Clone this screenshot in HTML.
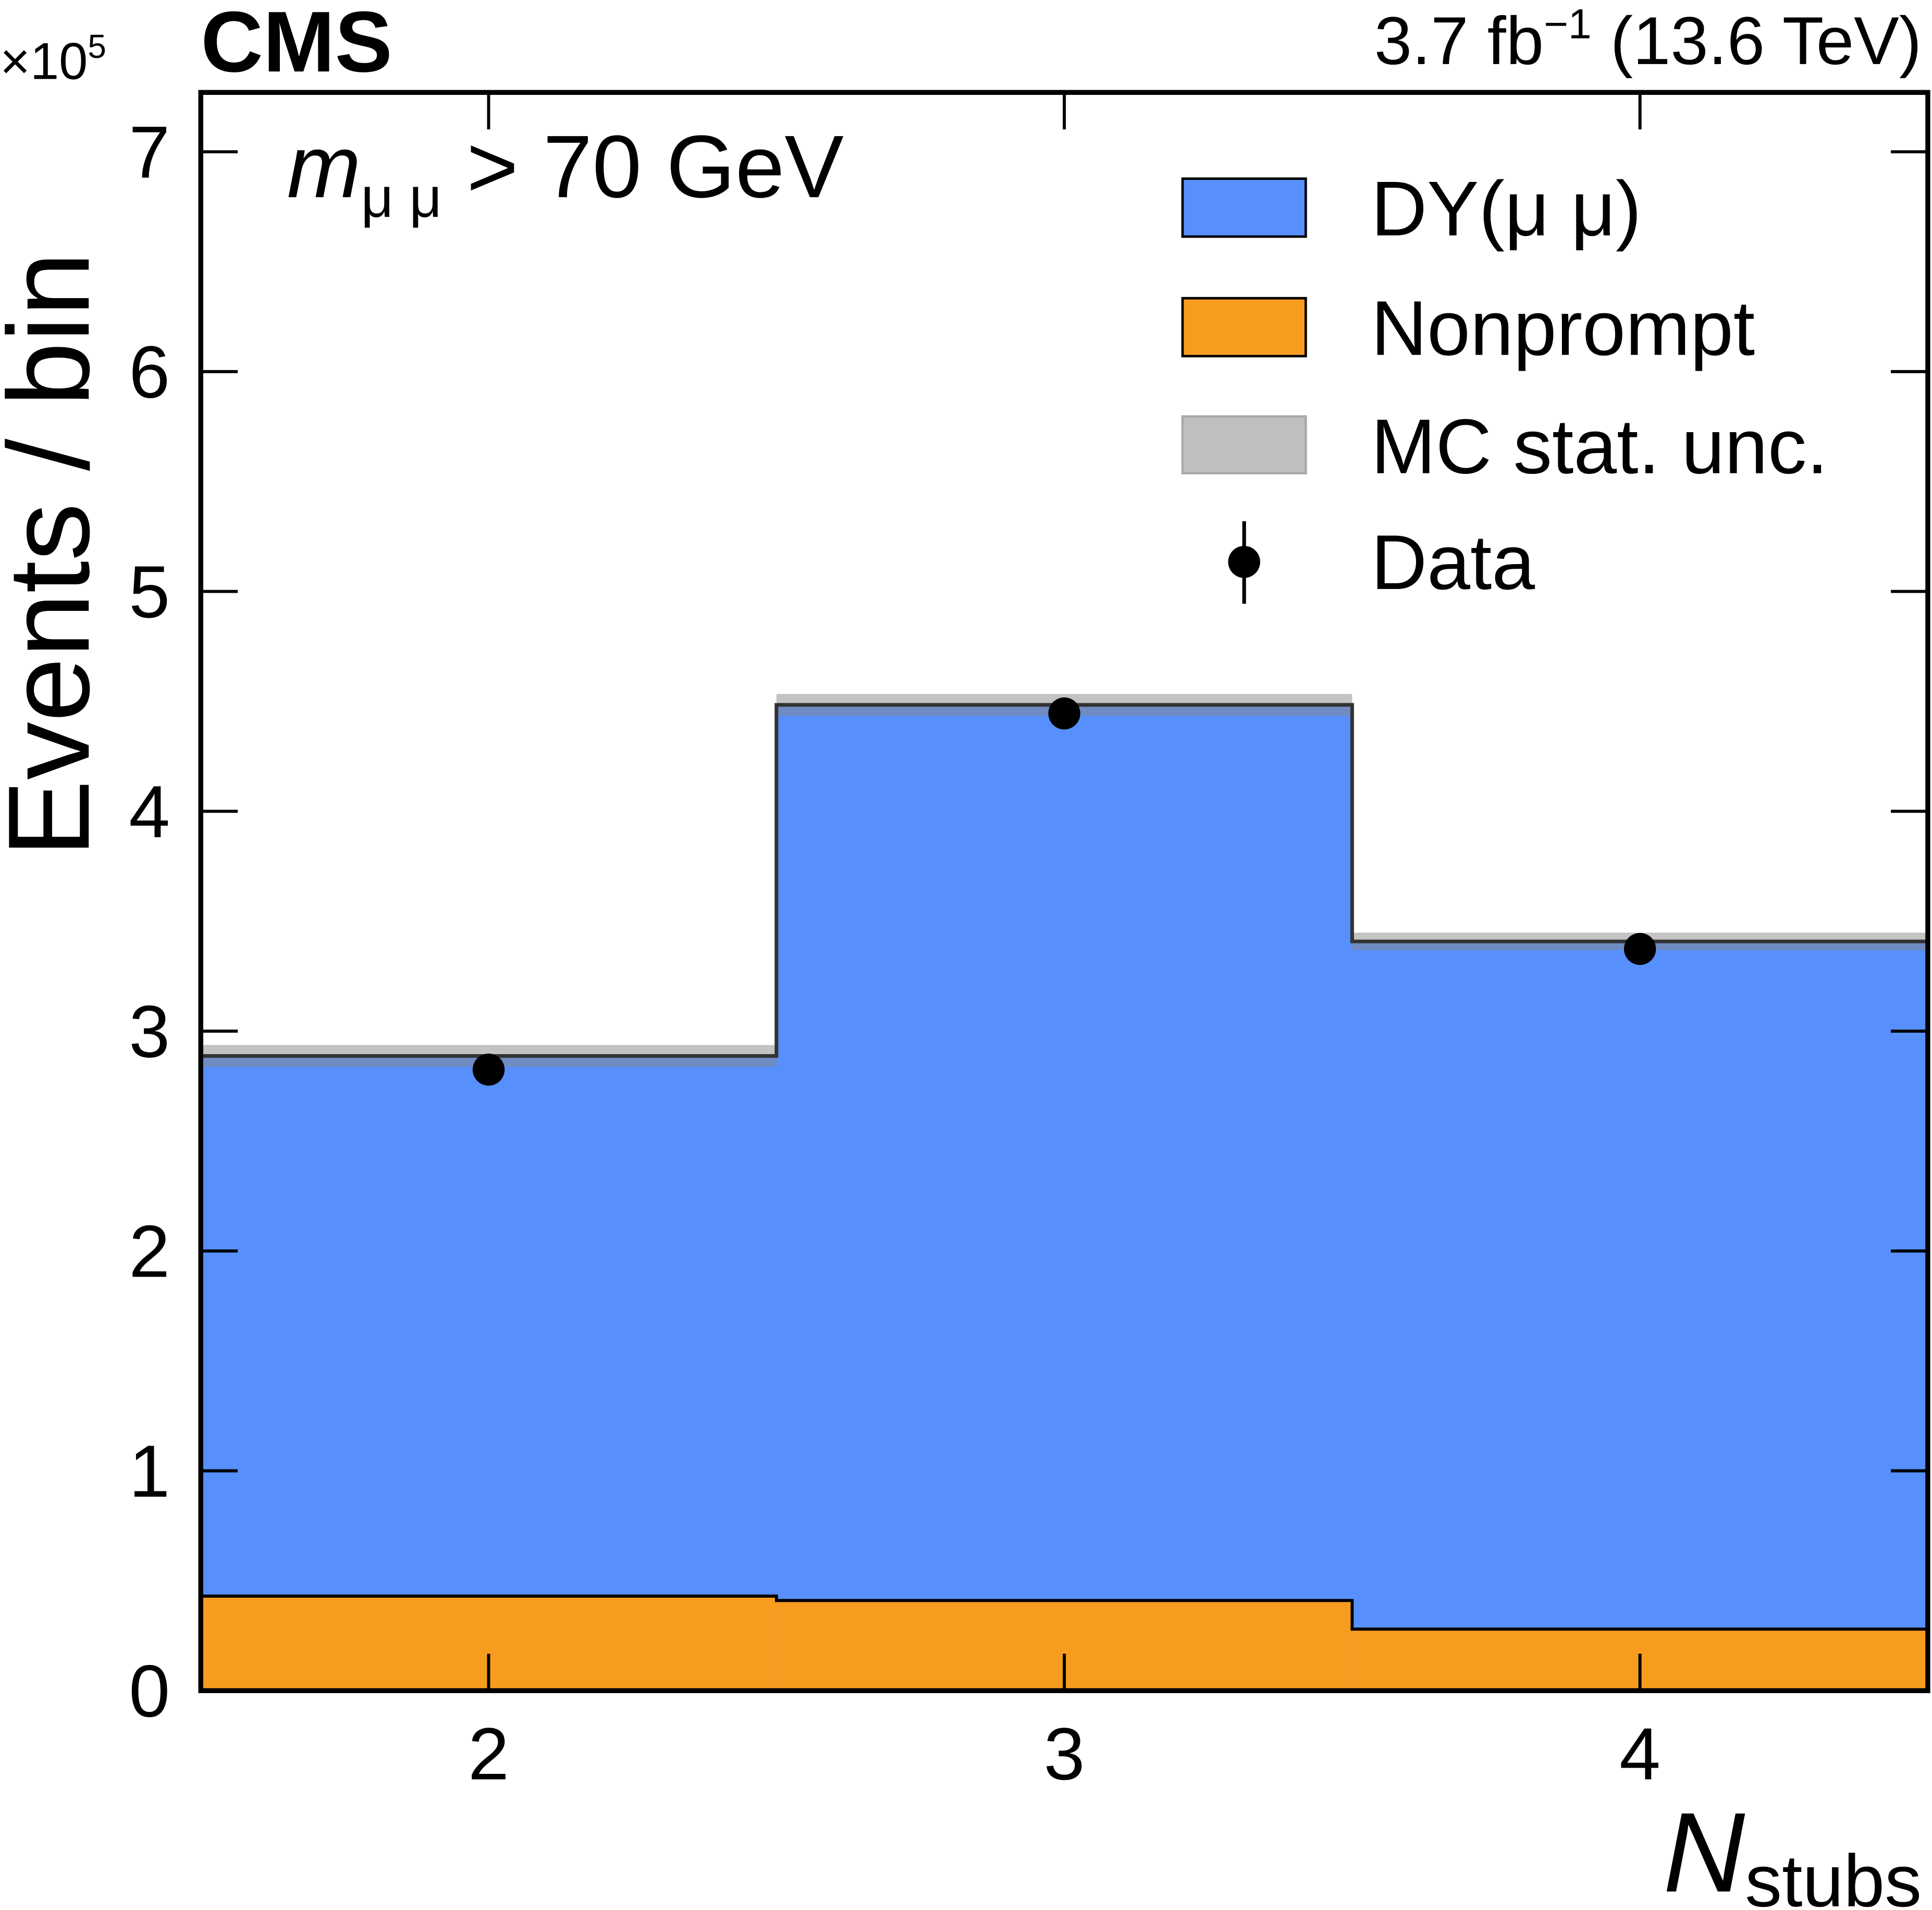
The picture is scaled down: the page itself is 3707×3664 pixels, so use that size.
<!DOCTYPE html>
<html><head><meta charset="utf-8"><style>
html,body{margin:0;padding:0;background:#fff;}
svg{display:block;font-family:"Liberation Sans",sans-serif;}
</style></head><body>
<svg id="chart" width="3707" height="3664" viewBox="0 0 1568.4 1550" preserveAspectRatio="none" xmlns="http://www.w3.org/2000/svg">
<g id="marks"></g>
<rect x="163" y="75" width="1402" height="1297" fill="none" stroke="#000" stroke-width="4"/>
<g id="axes"></g>
<text x="163" y="58" font-size="70" font-weight="bold">CMS</text>
<text x="0" y="64" font-size="42">×10<tspan font-size="27" dy="-17">5</tspan></text>
<text x="1560" y="52" font-size="55" text-anchor="end">3.7 fb<tspan font-size="34" dy="-21">−1</tspan><tspan dy="21"> (13.6 TeV)</tspan></text>
<text x="233" y="160" font-size="72"><tspan font-style="italic">m</tspan><tspan font-size="46" dy="16">μ μ</tspan><tspan dy="-16"> &gt; 70 GeV</tspan></text>
<text transform="translate(72,450) rotate(-90)" font-size="94" text-anchor="middle">Events / bin</text>
<text x="1560" y="1535" font-size="92" text-anchor="end"><tspan font-style="italic">N</tspan><tspan font-size="60" dy="12">stubs</tspan></text>
<g font-size="63">
<rect x="960" y="145" width="100" height="47" fill="#5790fc" stroke="#000" stroke-width="2"/>
<text x="1113" y="191">DY(μ μ)</text>
<rect x="960" y="242" width="100" height="47" fill="#f89c20" stroke="#000" stroke-width="2"/>
<text x="1113" y="288">Nonprompt</text>
<rect x="960" y="338" width="100" height="46" fill="#c0c0c0" stroke="#aaa" stroke-width="2"/>
<text x="1113" y="384">MC stat. unc.</text>
<line x1="1010" y1="423" x2="1010" y2="490" stroke="#000" stroke-width="3"/>
<circle cx="1010" cy="456" r="13"/>
<text x="1113" y="478">Data</text>
</g>
</svg>
<script>
const bins = [2, 3, 4];
const dyTotal = [2.887, 4.484, 3.408];
const nonprompt = [0.43, 0.41, 0.28];
const mcUnc = [0.05, 0.05, 0.04];
const dataVals = [2.825, 4.445, 3.374];
const yTicks = [0, 1, 2, 3, 4, 5, 6, 7];
const xTicks = [2, 3, 4];

const X0 = 163, X1 = 1565, Y0 = 1372, Y1 = 75;
const xmin = 1.5, xmax = 4.5, ymin = 0, ymax = 7.27;
function xs(v){ return X0 + (v - xmin) / (xmax - xmin) * (X1 - X0); }
function ys(v){ return Y0 - (v - ymin) / (ymax - ymin) * (Y0 - Y1); }
const NS = 'http://www.w3.org/2000/svg';
function mk(tag, attrs, parent){
  const e = document.createElementNS(NS, tag);
  for (const k in attrs) e.setAttribute(k, attrs[k]);
  parent.appendChild(e); return e;
}
const marks = document.getElementById('marks');
const axes = document.getElementById('axes');
bins.forEach((b, i) => {
  const xa = xs(b - 0.5), xb = xs(b + 0.5) + 1;
  let r = mk('rect', {x: xa, y: ys(dyTotal[i]), width: xb - xa, height: ys(0) - ys(dyTotal[i]), fill: '#5790fc'}, marks);
  
  
  r = mk('rect', {x: xa, y: ys(nonprompt[i]), width: xb - xa, height: ys(0) - ys(nonprompt[i]), fill: '#f89c20'}, marks);
  
  
  r = mk('rect', {x: xa, y: ys(dyTotal[i] + mcUnc[i]), width: xb - xa - 1, height: ys(dyTotal[i] - mcUnc[i]) - ys(dyTotal[i] + mcUnc[i]), fill: '#888', 'fill-opacity': 0.5}, marks);
  
  
});
function stepPath(vals){
  let d = '';
  bins.forEach((b, i) => {
    const xa = xs(b - 0.5), xb = xs(b + 0.5), y = ys(vals[i]);
    d += (i === 0 ? 'M' : 'L') + xa + ',' + y + 'L' + xb + ',' + y;
  });
  return d;
}
let p = mk('path', {d: stepPath(dyTotal), fill: 'none', stroke: '#333', 'stroke-width': 3}, marks);


p = mk('path', {d: stepPath(nonprompt), fill: 'none', stroke: '#000', 'stroke-width': 2.5}, marks);


bins.forEach((b, i) => {
  const c = mk('circle', {cx: xs(b), cy: ys(dataVals[i]), r: 13, fill: '#000'}, marks);
  
  
});
yTicks.forEach(t => {
  const y = ys(t);
  let l = mk('line', {x1: X0, x2: X0 + 30, y1: y, y2: y, stroke: '#000', 'stroke-width': 2.5}, axes);
  
  
  l = mk('line', {x1: X1 - 30, x2: X1, y1: y, y2: y, stroke: '#000', 'stroke-width': 2.5}, axes);
  
  
  const tx = mk('text', {x: 138, y: y + 21, 'font-size': 60, 'text-anchor': 'end'}, axes);
  tx.textContent = t;
  
  
});
xTicks.forEach(t => {
  const x = xs(t);
  let l = mk('line', {x1: x, x2: x, y1: Y0, y2: Y0 - 30, stroke: '#000', 'stroke-width': 2.5}, axes);
  
  
  l = mk('line', {x1: x, x2: x, y1: Y1, y2: Y1 + 30, stroke: '#000', 'stroke-width': 2.5}, axes);
  
  
  const tx = mk('text', {x: x, y: 1444, 'font-size': 60, 'text-anchor': 'middle'}, axes);
  tx.textContent = t;
  
  
});
</script>
</body></html>
